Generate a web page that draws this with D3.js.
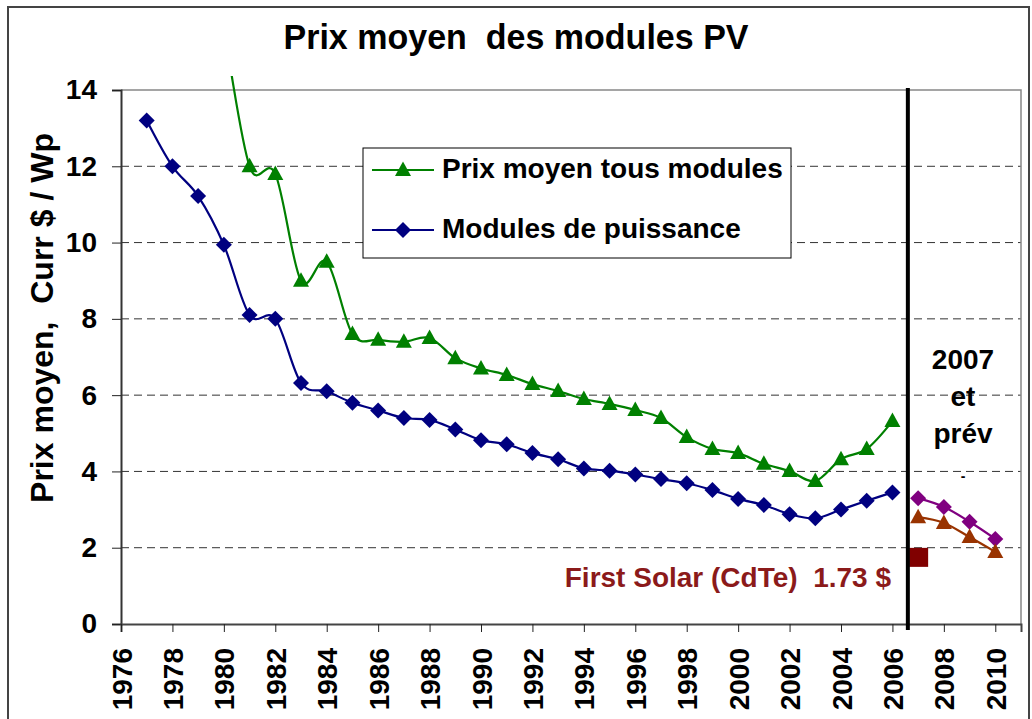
<!DOCTYPE html>
<html>
<head>
<meta charset="utf-8">
<script src="https://cdn.jsdelivr.net/npm/d3@7"></script>
<style>
  body { margin: 0; background: #fff; }
  text { font-family: "Liberation Sans", Arial, sans-serif; font-weight: bold; }
</style>
</head>
<body>
<div id="chart"></div>
<script>
// ---- data ----
var tousYears  = [1980, 1981, 1982, 1983, 1984, 1985, 1986, 1987, 1988, 1989, 1990, 1991, 1992, 1993,
                  1994, 1995, 1996, 1997, 1998, 1999, 2000, 2001, 2002, 2003, 2004, 2005, 2006];
var tousValues = [15.7, 12.0, 11.8, 9.0, 9.5, 7.6, 7.45, 7.4, 7.5, 6.97, 6.7, 6.53, 6.29, 6.11,
                  5.9, 5.77, 5.61, 5.4, 4.9, 4.59, 4.48, 4.2, 4.01, 3.75, 4.32, 4.59, 5.32];

var puissYears  = [1977, 1978, 1979, 1980, 1981, 1982, 1983, 1984, 1985, 1986, 1987, 1988, 1989, 1990, 1991,
                   1992, 1993, 1994, 1995, 1996, 1997, 1998, 1999, 2000, 2001, 2002, 2003, 2004, 2005, 2006];
var puissValues = [13.2, 12.0, 11.22, 9.94, 8.1, 8.0, 6.32, 6.1, 5.8, 5.6, 5.4, 5.35, 5.1, 4.82, 4.71,
                   4.48, 4.32, 4.08, 4.02, 3.92, 3.8, 3.69, 3.51, 3.28, 3.12, 2.88, 2.77, 3.0, 3.23, 3.45];

var prevYears      = [2007, 2008, 2009, 2010];
var prevPuissValues = [3.3, 3.07, 2.68, 2.23];
var prevTousValues  = [2.8, 2.65, 2.28, 1.89];

var firstSolarYear = 2007, firstSolarValue = 1.76;
var splitYear = 2006.6;

var xTicks = [1976, 1978, 1980, 1982, 1984, 1986, 1988, 1990, 1992, 1994, 1996, 1998, 2000, 2002, 2004, 2006, 2008, 2010];
var yTicks = [0, 2, 4, 6, 8, 10, 12, 14];

//______________________ svg and scales ______________________
var width = 1032, height = 719;
var plot = {left: 121, right: 1021, top: 90, bottom: 624};

var svg = d3.select("#chart").append("svg")
  .attr("width", width).attr("height", height);

var x = d3.scaleLinear().domain([1976, 2011]).range([plot.left, plot.right]);
var y = d3.scaleLinear().domain([0, 14]).range([plot.bottom, plot.top]);

// outer frame
svg.append("rect")
  .attr("x", 8).attr("y", 7).attr("width", 1021).attr("height", 740)
  .attr("fill", "none").attr("stroke", "#444").attr("stroke-width", 2);

// title
svg.append("text")
  .attr("x", 516).attr("y", 49)
  .attr("text-anchor", "middle")
  .attr("font-size", 35)
  .attr("textLength", 465).attr("lengthAdjust", "spacingAndGlyphs")
  .style("white-space", "pre")
  .text("Prix moyen  des modules PV");

// grid lines (dashed)
svg.append("g").selectAll("line")
  .data(yTicks.filter(function(d) { return d > 0 && d < 14; }))
  .enter().append("line")
  .attr("x1", plot.left).attr("x2", plot.right)
  .attr("y1", function(d) { return y(d); }).attr("y2", function(d) { return y(d); })
  .attr("stroke", "#333").attr("stroke-width", 1)
  .attr("stroke-dasharray", "8,5");

// plot border top + right
svg.append("path")
  .attr("d", "M" + plot.left + "," + plot.top + "H" + plot.right + "V" + plot.bottom)
  .attr("fill", "none").attr("stroke", "#888").attr("stroke-width", 1.5);

// y axis
var yAxis = svg.append("g")
  .attr("transform", "translate(" + plot.left + ",0)")
  .call(d3.axisLeft(y).tickValues(yTicks).tickSize(9).tickPadding(15).tickFormat(d3.format("d")));
yAxis.select(".domain").attr("stroke", "#333").attr("stroke-width", 2);
yAxis.selectAll(".tick line").attr("stroke", "#222");
yAxis.selectAll("text").attr("font-size", 28).attr("font-family", "Liberation Sans, Arial").attr("font-weight", "bold").attr("fill", "#000");

// x axis
var xAxis = svg.append("g")
  .attr("transform", "translate(0," + plot.bottom + ")")
  .call(d3.axisBottom(x).tickValues(xTicks).tickSize(8).tickPadding(0).tickFormat(d3.format("d")));
xAxis.select(".domain").attr("stroke", "#444").attr("stroke-width", 2);
xAxis.selectAll(".tick line").attr("stroke", "#222");
xAxis.selectAll("text")
  .attr("font-size", 28).attr("font-family", "Liberation Sans, Arial").attr("font-weight", "bold").attr("fill", "#000")
  .attr("text-anchor", "end")
  .attr("transform", "rotate(-90)")
  .attr("x", -24).attr("y", 0).attr("dy", "0.36em");

// y axis title
svg.append("text")
  .attr("transform", "translate(53," + 318 + ") rotate(-90)")
  .attr("text-anchor", "middle")
  .attr("font-size", 32)
  .style("white-space", "pre")
  .text("Prix moyen,  Curr $ / Wp");

//______________________ lines ______________________
svg.append("clipPath").attr("id", "clip")
  .append("rect").attr("x", plot.left).attr("y", 76)
  .attr("width", plot.right - plot.left).attr("height", plot.bottom - 76);

var line = d3.line()
  .x(function(d) { return x(d[0]); })
  .y(function(d) { return y(d[1]); })
  .curve(d3.curveCatmullRom.alpha(0));

function zip(a, b) { return a.map(function(v, i) { return [v, b[i]]; }); }

var triPath = "M0,-8.5L8,6L-8,6Z";
var diaPath = "M0,-8L8,0L0,8L-8,0Z";

function drawSeries(data, color, marker) {
  var g = svg.append("g").attr("clip-path", "url(#clip)");
  g.append("path").datum(data)
    .attr("d", line)
    .attr("fill", "none").attr("stroke", color).attr("stroke-width", 2.2);
  g.selectAll(".m").data(data).enter().append("path")
    .attr("class", "m")
    .attr("d", marker)
    .attr("transform", function(d) { return "translate(" + x(d[0]) + "," + y(d[1]) + ")"; })
    .attr("fill", color);
}

drawSeries(zip(tousYears, tousValues), "#008000", triPath);
drawSeries(zip(puissYears, puissValues), "#000080", diaPath);
drawSeries(zip(prevYears, prevPuissValues), "#800080", diaPath);
drawSeries(zip(prevYears, prevTousValues), "#993300", triPath);

// first solar square
svg.append("rect")
  .attr("x", x(firstSolarYear) - 9).attr("y", y(firstSolarValue) - 9)
  .attr("width", 19).attr("height", 19)
  .attr("fill", "#800000");

svg.append("text")
  .attr("x", 891).attr("y", 587)
  .attr("text-anchor", "end")
  .attr("font-size", 28)
  .attr("fill", "#8B1A1A")
  .style("white-space", "pre")
  .text("First Solar (CdTe)  1.73 $");

// separator
svg.append("line")
  .attr("x1", x(splitYear)).attr("x2", x(splitYear))
  .attr("y1", plot.top - 2).attr("y2", plot.bottom + 6)
  .attr("stroke", "#000").attr("stroke-width", 4);

var prevLabel = ["2007", "et", "prév"];
svg.append("g").selectAll("text").data(prevLabel).enter().append("text")
  .attr("x", 963)
  .attr("y", function(d, i) { return 369 + i * 37; })
  .attr("text-anchor", "middle")
  .attr("font-size", 28)
  .text(function(d) { return d; });
svg.append("text").attr("x", 963).attr("y", 481).attr("text-anchor", "middle")
  .attr("font-size", 14).text("-");

//______________________ legend ______________________
var legend = svg.append("g");
legend.append("rect")
  .attr("x", 363).attr("y", 148).attr("width", 428).attr("height", 110)
  .attr("fill", "#fff").attr("stroke", "#000").attr("stroke-width", 1);

var legendItems = [
  {label: "Prix moyen tous modules", color: "#008000", marker: triPath, y: 170},
  {label: "Modules de puissance", color: "#000080", marker: diaPath, y: 230}
];
var li = legend.selectAll(".li").data(legendItems).enter().append("g").attr("class", "li");
li.append("line")
  .attr("x1", 372).attr("x2", 434)
  .attr("y1", function(d) { return d.y; }).attr("y2", function(d) { return d.y; })
  .attr("stroke", function(d) { return d.color; }).attr("stroke-width", 2);
li.append("path")
  .attr("d", function(d) { return d.marker; })
  .attr("transform", function(d) { return "translate(403," + d.y + ")"; })
  .attr("fill", function(d) { return d.color; });
li.append("text")
  .attr("x", 442)
  .attr("y", function(d) { return d.y + 8; })
  .attr("font-size", 28)
  .text(function(d) { return d.label; });
</script>
</body>
</html>
